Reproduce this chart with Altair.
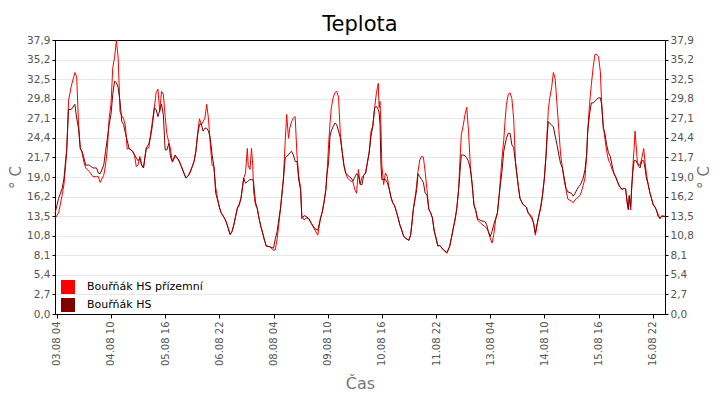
import altair as alt
import pandas as pd

# ---- data ----
START = pd.Timestamp("2023-08-03 04:00")

hours = [
    -1, 1, 3, 4, 5.5, 6.5, 8, 10, 11, 12, 13, 14, 15, 16, 18, 20, 22, 23, 24, 26,
    27, 28, 29, 30, 31, 32, 33, 34, 35, 36, 37, 38, 39, 40, 42, 43,
    44, 45, 46, 47, 48, 49.5, 51, 52, 53, 54, 55, 56, 57, 58, 59, 60, 61, 62, 63, 64,
    65.5, 67.5, 69, 70, 71.5, 73, 74, 75, 76, 77, 78, 79, 80, 81, 82, 83, 84, 85, 86, 87,
    88, 89, 90, 91, 93, 94, 95, 96, 97, 98, 99, 100, 101, 102, 103.5, 104.5, 105.5, 106, 107,
    107.8, 108.5, 109, 110, 111, 112, 113, 114, 115, 116, 118, 120, 121, 122, 123, 124,
    125.5, 126.5, 127.3, 128.3, 129, 130, 131, 132,
    133, 134, 135, 135.7, 137, 138, 139.5, 141, 143, 144.5, 146, 147, 148, 149, 149.5,
    150.5, 151.3, 152, 153, 154, 155, 156, 157, 158, 159, 160, 161, 162, 163, 164,
    165, 166, 167, 168, 169, 170, 171, 172, 173, 174, 175, 176,
    177, 178, 178.5, 179, 179.5, 180, 181, 182, 183, 184, 185, 186, 187, 188, 189, 190,
    191, 192, 193, 195, 196, 197.5, 198.5, 199.3, 200, 201, 202, 203, 204, 205, 206, 207,
    208, 209, 210, 211, 212, 214, 216, 217.5, 218.5, 219.5, 220.5,
    221.5, 222.5, 223.3, 224, 225, 226, 227, 228, 229, 230, 231, 232, 233, 235, 237, 238,
    239, 240, 241, 242, 243, 244, 245, 246.5, 247.5, 248.2, 249, 250, 251, 252, 253, 254,
    255.5, 256.5, 258, 260, 261, 263, 264, 265,
    266, 267, 268, 269, 270, 271, 271.6, 272.2, 273, 274, 275, 276, 277, 278, 279, 280,
    281, 282, 283, 285, 286, 287, 288, 289, 290, 291.5, 292.5, 293.4, 294, 295, 296, 297,
    298, 299, 300, 301, 301.7, 302.6, 303.5, 304.5, 305.5, 306.5, 307.5, 308.5,
    309.5, 310.5, 311.5, 313, 314, 315, 316, 316.5, 317, 317.8, 318.3, 319, 319.7, 320.2,
    320.8, 321.5, 322.3, 323, 324, 325, 325.7, 326.5, 327.5, 328.5, 329.3, 330.3, 331,
    332, 333, 334, 335, 336.8,
]

red_vals = [
    13.2, 14.0, 16.5, 18.0, 22.5, 29.5, 31.5, 33.4, 32.8, 26.6, 23.0, 22.3, 21.0, 20.2, 19.7, 19.0, 19.0, 19.0, 18.2, 19.2,
    20.6, 22.9, 27.1, 29.0, 34.1, 35.5, 37.9, 35.4, 28.0, 27.4, 27.0, 26.0, 22.8, 22.9, 22.5, 22.0,
    20.4, 20.6, 21.8, 20.6, 20.2, 22.9, 23.0, 25.0, 26.8, 28.5, 30.6, 31.1, 28.0, 30.8, 30.4, 27.3, 24.8, 23.8, 22.8, 21.0,
    21.8, 21.3, 20.4, 19.8, 18.8, 19.2, 19.6, 20.4, 21.1, 22.5, 25.0, 27.0, 26.2, 26.6, 27.1, 29.0, 27.0, 23.5, 20.6, 20.4,
    17.5, 16.0, 14.8, 14.0, 13.2, 12.6, 11.8, 11.0, 11.4, 12.3, 13.5, 14.6, 15.0, 16.0, 18.8, 19.5, 22.9, 20.5, 20.0,
    22.9, 20.6, 16.9, 15.1, 14.6, 13.2, 12.1, 11.2, 10.2, 9.4, 9.3, 8.8, 8.9, 10.4, 12.5, 15.0,
    18.8, 24.0, 27.6, 24.3, 25.7, 26.6, 27.1, 27.3,
    22.0, 19.0, 17.5, 13.5, 13.0, 13.3, 13.2, 12.5, 11.6, 10.9, 13.2, 14.1, 15.5, 17.2, 18.8,
    23.4, 26.4, 28.5, 29.9, 30.6, 30.8, 30.0, 25.0, 22.5, 20.5, 19.5, 18.8, 18.6, 18.3, 18.3,
    17.2, 16.7, 20.0, 18.0, 18.9, 19.2, 19.5, 21.0, 22.5, 25.3, 26.0, 28.5,
    30.6, 31.9, 28.5, 29.4, 26.0, 20.6, 17.9, 19.5, 19.0, 17.4, 16.2, 15.4, 15.0, 14.2, 13.3, 12.3,
    11.6, 10.8, 10.5, 10.2, 11.0, 14.6, 16.3, 17.9, 19.7, 21.3, 21.8, 21.7, 19.6, 17.2, 14.5, 14.0,
    13.3, 11.5, 10.5, 9.4, 9.5, 8.9, 8.4, 9.3, 10.5, 11.8, 13.0,
    14.6, 17.2, 21.5, 24.8, 26.0, 27.5, 28.6, 25.3, 20.5, 18.0, 15.1, 14.3, 13.0, 12.5, 12.1, 11.9,
    11.4, 10.5, 9.8, 11.0, 13.0, 14.0, 16.5, 21.5, 24.0, 26.6, 29.0, 30.4, 30.6, 29.8, 27.0, 21.0,
    17.8, 16.0, 15.2, 14.8, 14.0, 13.2, 12.6, 10.9,
    12.3, 13.7, 14.6, 16.5, 18.8, 22.5, 25.5, 28.3, 29.9, 31.3, 33.4, 32.5, 29.0, 25.5, 22.0, 20.2,
    18.4, 17.2, 15.9, 15.6, 15.4, 15.8, 16.0, 16.2, 16.5, 17.8, 18.8, 22.0, 25.3, 29.0, 31.7, 34.1,
    35.9, 35.9, 35.6, 33.5, 29.2, 26.2, 24.3, 22.5, 21.3, 20.8, 20.0, 19.5,
    19.0, 18.3, 17.7, 17.2, 17.4, 17.3, 15.0, 14.4, 16.2, 14.4, 17.0, 20.4, 22.9, 25.3,
    23.4, 21.0, 20.6, 20.6, 21.6, 22.9, 21.1, 19.4, 17.9, 16.7, 16.0, 15.1, 14.9,
    14.4, 13.8, 13.2, 13.6, 13.5,
]

dark_vals = [
    13.9, 16.0, 17.4, 18.8, 22.9, 28.3, 28.3, 29.0, 27.1, 25.7, 22.9, 22.5, 21.6, 20.6, 20.6, 20.2, 20.2, 19.5, 19.4, 20.6,
    22.5, 24.3, 26.2, 27.6, 30.4, 32.2, 32.0, 31.3, 29.4, 26.6, 26.2, 25.0, 24.0, 22.9, 22.5, 22.0,
    21.6, 21.2, 21.5, 20.6, 20.2, 22.9, 23.6, 24.6, 26.2, 28.5, 28.3, 27.3, 28.2, 29.0, 27.5, 22.7, 22.7, 23.6, 21.7, 21.1,
    22.0, 21.3, 20.4, 19.7, 18.8, 19.2, 19.8, 20.4, 21.1, 22.5, 24.8, 26.2, 26.3, 25.3, 25.7, 25.7, 25.3, 24.3, 22.0, 20.4,
    16.7, 15.8, 14.8, 14.0, 13.2, 12.6, 11.8, 11.0, 11.4, 12.3, 13.5, 14.7, 15.2, 16.0, 18.8, 18.1, 18.3, 18.4, 18.6,
    18.6, 18.6, 18.2, 15.5, 14.6, 13.2, 12.1, 11.2, 10.2, 9.4, 9.3, 9.1, 10.4, 11.4, 13.2, 14.8,
    18.6, 21.6, 21.8, 22.0, 22.3, 22.5, 22.0, 21.1,
    21.1, 18.5, 17.2, 13.2, 13.6, 13.5, 13.2, 12.5, 11.8, 11.6, 13.2, 14.1, 15.5, 17.2, 19.2,
    20.9, 24.6, 25.3, 25.9, 26.4, 26.2, 25.3, 24.4, 22.5, 20.6, 19.5, 19.2, 19.0, 18.8, 18.4,
    18.9, 19.4, 19.2, 17.9, 17.9, 19.2, 19.5, 20.9, 22.3, 24.6, 26.0, 28.5,
    28.7, 28.3, 27.8, 26.2, 20.6, 18.6, 18.6, 18.6, 18.2, 17.4, 16.2, 15.4, 15.0, 14.2, 13.3, 12.3,
    11.6, 10.8, 10.5, 10.2, 11.0, 14.6, 16.0, 17.2, 19.4, 19.0, 18.6, 18.2, 16.7, 16.5, 14.5, 14.0,
    13.3, 11.5, 10.5, 9.4, 9.5, 8.9, 8.5, 9.3, 10.5, 11.8, 13.0,
    14.6, 17.2, 19.7, 22.0, 22.0, 21.9, 21.6, 21.1, 20.0, 18.0, 15.1, 14.3, 13.2, 12.9, 12.8, 12.4,
    11.4, 10.7, 11.4, 12.4, 13.2, 14.0, 16.5, 19.7, 22.5, 23.4, 24.3, 25.0, 25.0, 23.4, 23.0, 21.0,
    17.8, 16.0, 15.2, 14.8, 14.0, 13.5, 12.6, 11.2,
    12.5, 13.7, 14.9, 16.5, 18.8, 22.0, 24.8, 26.6, 26.4, 26.1, 25.9, 24.6, 23.4, 22.0, 20.8, 20.2,
    18.8, 17.4, 16.9, 16.7, 16.3, 16.7, 17.2, 17.6, 17.9, 18.8, 20.0, 22.0, 25.3, 27.6, 29.2, 29.2,
    29.4, 29.7, 29.9, 29.9, 29.0, 25.7, 25.0, 23.4, 22.3, 21.8, 20.6, 19.4,
    18.9, 18.3, 17.7, 17.2, 17.4, 17.3, 15.2, 14.5, 16.4, 14.8, 17.4, 19.7, 21.2, 21.2,
    21.2, 20.8, 20.4, 20.2, 21.2, 21.2, 20.2, 18.8, 17.9, 16.7, 16.0, 15.1, 14.9,
    14.4, 13.5, 13.2, 13.5, 13.5,
]

series_names = ["Bouřňák HS přízemní", "Bouřňák HS"]
series_colors = ["#ff0000", "#800000"]

x_tick_labels = ["03.08 04", "04.08 10", "05.08 16", "06.08 22", "08.08 04", "09.08 10",
                 "10.08 16", "11.08 22", "13.08 04", "14.08 10", "15.08 16", "16.08 22"]
y_tick_labels = ["0,0", "2,7", "5,4", "8,1", "10,8", "13,5", "16,2", "19,0", "21,7",
                 "24,4", "27,1", "29,8", "32,5", "35,2", "37,9"]
Y_MAX = 37.9

assert len(hours) == len(red_vals) == len(dark_vals)

# ---- tables ----
df = pd.DataFrame({
    "time": [(START + pd.Timedelta(hours=h)).strftime("%Y-%m-%dT%H:%M:%S") for h in hours],
    "red": red_vals,
    "dark": dark_vals,
})

x_tick_values = []
for lab in x_tick_labels:
    dm, hh = lab.split(" ")
    d, m = dm.split(".")
    x_tick_values.append(alt.DateTime(year=START.year, month=int(m), date=int(d), hours=int(hh)))

step = Y_MAX / (len(y_tick_labels) - 1)
y_tick_values = [round(i * step, 5) for i in range(len(y_tick_labels))]
y_label_expr = "[" + ",".join("'" + s + "'" for s in y_tick_labels) + "][round(datum.value / " + str(step) + ")]"

FONT = "DejaVu Sans"
LABEL_COLOR = "#555555"
TITLE_COLOR = "#777777"
GRID_COLOR = "#e8e8e8"

x_enc = alt.X(
    "time:T",
    scale=alt.Scale(nice=False),
    axis=alt.Axis(
        values=x_tick_values,
        labelExpr="timeFormat(datum.value, '%d.%m %H')",
        labelAngle=-90, labelOverlap=False, labelFlush=False,
        title="Čas", grid=False, tickSize=4, tickColor="black", domainColor="black",
        labelFont=FONT, labelFontSize=10, labelColor=LABEL_COLOR, labelPadding=3,
        titleFont=FONT, titleFontSize=16, titleFontWeight="normal", titleColor=TITLE_COLOR,
        titlePadding=10,
    ),
)

y_scale = alt.Scale(domain=[0, Y_MAX], nice=False, zero=False)

def y_axis(orient, grid):
    return alt.Axis(
        orient=orient, values=y_tick_values, labelExpr=y_label_expr,
        title="° C", grid=grid,
        gridColor=alt.condition("datum.value > " + str(Y_MAX - 0.1), alt.value("black"), alt.value(GRID_COLOR)),
        tickSize=3, tickColor="black",
        domainColor="black", labelFont=FONT, labelFontSize=10.5, labelColor=LABEL_COLOR,
        labelPadding=2, titleFont=FONT, titleFontSize=15, titleFontWeight="normal",
        titleColor=TITLE_COLOR, titlePadding=3, titleAngle=-90,
        titleBaseline="bottom" if orient == "left" else "top",
    )

red_layer = alt.Chart(df).mark_line(color=series_colors[0], strokeWidth=1).encode(
    x=x_enc,
    y=alt.Y("red:Q", scale=y_scale, axis=y_axis("left", True)),
)
dark_layer = alt.Chart(df).mark_line(color=series_colors[1], strokeWidth=1).encode(
    x=x_enc,
    y=alt.Y("dark:Q", scale=y_scale, axis=y_axis("right", False)),
)
legend_layer = alt.Chart(pd.DataFrame({"series": series_names})).mark_square(
    filled=True, size=196, opacity=1
).encode(
    color=alt.Color(
        "series:N",
        scale=alt.Scale(domain=series_names, range=series_colors),
        legend=alt.Legend(
            orient="none", legendX=6, legendY=240, title=None,
            symbolType="square", symbolSize=196, symbolStrokeWidth=0, symbolOpacity=1,
            labelFont=FONT, labelFontSize=11, labelColor="black", labelOffset=12,
            rowPadding=4, padding=0, labelLimit=300,
        ),
    )
).transform_filter("false")

chart = alt.layer(red_layer, dark_layer, legend_layer).resolve_scale(
    y="independent"
).properties(
    width=610,
    height=274,
    title=alt.TitleParams(
        "Teplota", font=FONT, fontSize=21, fontWeight="normal", color="black",
        anchor="middle", offset=0,
    ),
    autosize=alt.AutoSizeParams(type="none"),
    padding={"left": 47, "top": 32, "right": 47, "bottom": 78},
).configure_view(stroke="black", strokeWidth=1)

chart.save("out.html", embed_options={"renderer": "svg", "actions": False})
